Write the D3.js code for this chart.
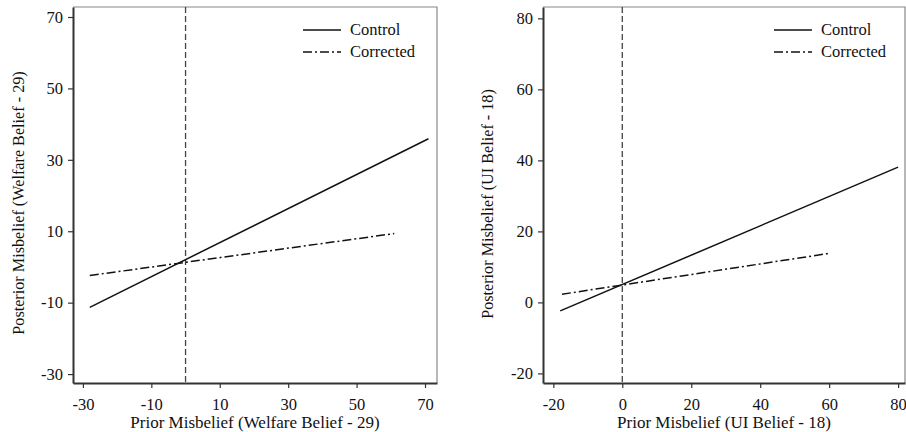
<!DOCTYPE html>
<html>
<head>
<meta charset="utf-8">
<script src="https://cdn.jsdelivr.net/npm/d3@7"></script>
<style>
  body { margin: 0; background: #fff; }
  svg { display: block; }
</style>
</head>
<body>
<svg id="chart" width="906" height="432"></svg>
<script>
// welfare panel
const welfareTicks = [-30, -10, 10, 30, 50, 70];
const welfareControlX = [-28, 71];
const welfareControlY = [-11.3, 35.9];
const welfareCorrectedX = [-28, 61];
const welfareCorrectedY = [-2.4, 9.35];

// UI panel
const uiTicks = [-20, 0, 20, 40, 60, 80];
const uiControlX = [-18, 80];
const uiControlY = [-2.4, 38.1];
const uiCorrectedX = [-17.5, 60];
const uiCorrectedY = [2.3, 13.8];

const seriesNames = ["Control", "Corrected"];
const dashes = [null, "9,3,2,3"];
const FONT = "Liberation Serif";

const panels = [
  {
    xDomain: [-32.9, 73.5], yDomain: [-32.5, 72.8],
    xRange: [73, 437], ticks: welfareTicks,
    xTitle: "Prior Misbelief (Welfare Belief - 29)",
    yTitle: "Posterior Misbelief (Welfare Belief - 29)",
    yTitleX: 24, yTitleY: 203,
    series: [[welfareControlX, welfareControlY], [welfareCorrectedX, welfareCorrectedY]],
    legendX: 303
  },
  {
    xDomain: [-23, 82], yDomain: [-22.7, 83.2],
    xRange: [543, 905], ticks: uiTicks,
    xTitle: "Prior Misbelief (UI Belief - 18)",
    yTitle: "Posterior Misbelief (UI Belief - 18)",
    yTitleX: 493, yTitleY: 204,
    series: [[uiControlX, uiControlY], [uiCorrectedX, uiCorrectedY]],
    legendX: 774
  }
];

const svg = d3.select("#chart");
const plotTop = 7, plotBottom = 383;

panels.forEach(p => {
  const x = d3.scaleLinear().domain(p.xDomain).range(p.xRange);
  const y = d3.scaleLinear().domain(p.yDomain).range([plotBottom, plotTop]);
  const g = svg.append("g");

  // top and right frame (light)
  g.append("path")
    .attr("d", `M${p.xRange[0]},${plotTop}H${p.xRange[1]}V${plotBottom}`)
    .attr("fill", "none").attr("stroke", "#888").attr("stroke-width", 1.2);

  const xAxis = g.append("g")
    .attr("transform", `translate(0,${plotBottom})`)
    .call(d3.axisBottom(x).tickValues(p.ticks).tickFormat(String)
      .tickSize(5).tickSizeOuter(0).tickPadding(10));
  const yAxis = g.append("g")
    .attr("transform", `translate(${p.xRange[0]},0)`)
    .call(d3.axisLeft(y).tickValues(p.ticks).tickFormat(String)
      .tickSize(5).tickSizeOuter(0).tickPadding(5));

  [xAxis, yAxis].forEach(a => {
    a.attr("font-family", FONT).attr("font-size", 16.5);
    a.select(".domain").attr("stroke", "#333").attr("stroke-width", 2);
    a.selectAll(".tick line").attr("stroke", "#333").attr("stroke-width", 1.2);
    a.selectAll(".tick text").attr("fill", "#111");
  });

  // vertical reference at 0
  g.append("line")
    .attr("x1", x(0)).attr("x2", x(0))
    .attr("y1", plotTop).attr("y2", plotBottom)
    .attr("stroke", "#444").attr("stroke-width", 1.3)
    .attr("stroke-dasharray", "6,3");

  const line = d3.line().x(d => x(d[0])).y(d => y(d[1]));
  p.series.forEach((s, i) => {
    const pts = d3.zip(s[0], s[1]);
    g.append("path")
      .attr("d", line(pts))
      .attr("fill", "none").attr("stroke", "#111").attr("stroke-width", 1.5)
      .attr("stroke-dasharray", dashes[i]);
  });

  // legend
  seriesNames.forEach((name, i) => {
    const ly = 30 + i * 22;
    g.append("line")
      .attr("x1", p.legendX).attr("x2", p.legendX + 38)
      .attr("y1", ly).attr("y2", ly)
      .attr("stroke", "#111").attr("stroke-width", 1.5)
      .attr("stroke-dasharray", dashes[i]);
    g.append("text")
      .attr("x", p.legendX + 47).attr("y", ly + 5)
      .attr("font-family", FONT).attr("font-size", 16.5).attr("fill", "#111")
      .text(name);
  });

  g.append("text")
    .attr("x", (p.xRange[0] + p.xRange[1]) / 2).attr("y", 428)
    .attr("text-anchor", "middle")
    .attr("font-family", FONT).attr("font-size", 17).attr("fill", "#111")
    .text(p.xTitle);

  g.append("text")
    .attr("transform", `translate(${p.yTitleX},${p.yTitleY}) rotate(-90)`)
    .attr("text-anchor", "middle")
    .attr("font-family", FONT).attr("font-size", 16.2).attr("fill", "#111")
    .text(p.yTitle);
});
</script>
</body>
</html>
